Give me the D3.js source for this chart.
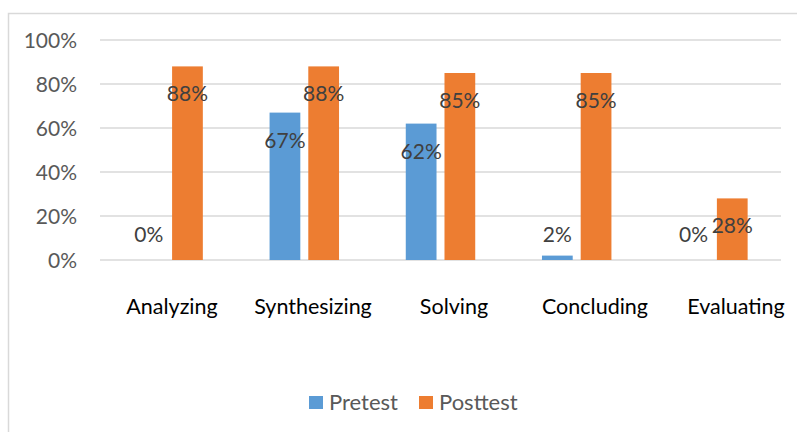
<!DOCTYPE html>
<html>
<head>
<meta charset="utf-8">
<script src="https://cdn.jsdelivr.net/npm/d3@7"></script>
<style>
  html, body { margin: 0; padding: 0; background: #fff; }
  svg { display: block; font-family: Lato, "Open Sans", sans-serif; }
</style>
</head>
<body>
<svg id="chart" width="797" height="432"></svg>
<script>
const categories = ["Analyzing", "Synthesizing", "Solving", "Concluding", "Evaluating"];
const seriesNames = ["Pretest", "Posttest"];
const pretest = [0, 67, 62, 2, 0];
const posttest = [88, 88, 85, 85, 28];
const yTicks = [0, 20, 40, 60, 80, 100];
const colors = ["#5B9BD5", "#ED7D31"];

const svg = d3.select("#chart");
const W = 797, H = 432;
const plot = { left: 100, right: 781, top: 40, bottom: 260 };

// outer chart border
svg.append("rect")
  .attr("x", 8.5).attr("y", 13.5)
  .attr("width", W + 10).attr("height", H + 10)
  .attr("fill", "none").attr("stroke", "#d9d9d9").attr("stroke-width", 1.5);

const y = d3.scaleLinear().domain([0, 100]).range([plot.bottom, plot.top]);
const x0 = d3.scaleBand().domain(categories).range([plot.left, plot.right])
  .paddingInner(0.49).paddingOuter(0.245);
const x1 = d3.scaleBand().domain(seriesNames).range([0, x0.bandwidth()]).paddingInner(0.206);
const xLabel = d3.scalePoint().domain(categories).range([172, 736]);

// gridlines
svg.append("g").selectAll("line").data(yTicks).join("line")
  .attr("x1", plot.left).attr("x2", plot.right)
  .attr("y1", d => y(d)).attr("y2", d => y(d))
  .attr("stroke", "#d9d9d9").attr("stroke-width", 1.6);

// y tick labels
svg.append("g").selectAll("text").data(yTicks).join("text")
  .attr("x", 77).attr("y", d => y(d) + 7.5)
  .attr("text-anchor", "end")
  .attr("font-size", 21).attr("fill", "#595959")
  .text(d => d + "%");

const rows = categories.map((c, i) => ({ cat: c, vals: [pretest[i], posttest[i]] }));

const groups = svg.append("g").selectAll("g").data(rows).join("g")
  .attr("transform", d => `translate(${x0(d.cat)},0)`);

groups.selectAll("rect").data(d => d.vals.map((v, j) => ({ s: seriesNames[j], v, j })))
  .join("rect")
  .attr("x", d => x1(d.s)).attr("width", x1.bandwidth())
  .attr("y", d => y(d.v)).attr("height", d => y(0) - y(d.v))
  .attr("fill", d => colors[d.j]);

groups.selectAll("text").data(d => d.vals.map((v, j) => ({ s: seriesNames[j], v, j })))
  .join("text")
  .attr("x", d => x1(d.s) + x1.bandwidth() / 2)
  .attr("y", d => Math.min(y(d.v) + 35, y(0) - 18))
  .attr("text-anchor", "middle")
  .attr("font-size", 21).attr("fill", "#404040")
  .text(d => d.v + "%");

// category labels
svg.append("g").selectAll("text").data(categories).join("text")
  .attr("x", d => xLabel(d)).attr("y", 314)
  .attr("text-anchor", "middle")
  .attr("font-size", 21.5).attr("fill", "#000")
  .text(d => d);

// legend
const legendX = [309, 419];
const legend = svg.append("g").selectAll("g").data(seriesNames).join("g")
  .attr("transform", (d, i) => `translate(${legendX[i]},396)`);
legend.append("rect").attr("width", 14).attr("height", 13).attr("fill", (d, i) => colors[i]);
legend.append("text").attr("x", 20).attr("y", 14)
  .attr("font-size", 22).attr("fill", "#595959").text(d => d);
</script>
</body>
</html>
